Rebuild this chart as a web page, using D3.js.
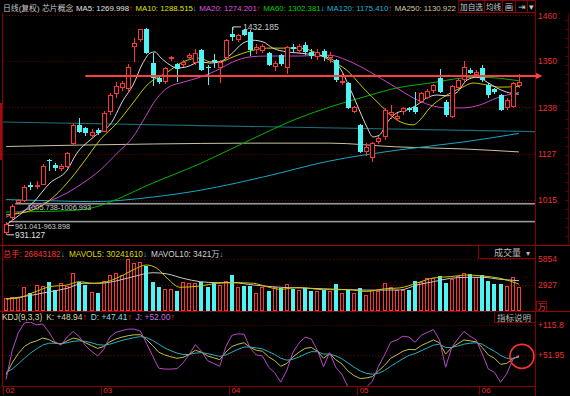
<!DOCTYPE html>
<html><head><meta charset="utf-8">
<script src="https://cdn.jsdelivr.net/npm/d3@7"></script>
<style>
html,body{margin:0;padding:0;background:#000;}
svg{display:block;}
text{font-family:"Liberation Sans","Noto Sans CJK SC",sans-serif;}
</style></head><body>
<svg id="c" width="570" height="396"></svg>
<script>
// ---------------- DATA ----------------
const opens  = [935,972,1008,1012,1052,1046,1052,1112,1100,1090,1095,1150,1196,1188,1170,1184,1180,1226,1270,1285,1282,1384,1400,1426,1345,1308,1300,1354,1342,1340,1358,1345,1377,1336,1352,1333,1357,1414,1400,1424,1420,1377,1375,1370,1335,1364,1334,1384,1375,1388,1372,1360,1375,1358,1352,1297,1297,1228,1196,1130,1116,1155,1167,1220,1210,1227,1237,1239,1250,1262,1277,1309,1250,1215,1285,1304,1328,1316,1333,1292,1283,1268,1237,1239,1290];
const highs  = [961.041,1005.738,1018,1050,1058,1060,1102,1115,1105,1102,1131,1200,1213,1192,1185,1188,1230,1272,1300,1302,1342,1405,1428,1430,1370,1315,1335,1362,1345,1352,1370,1378,1380,1340,1368,1352,1402,1432.185,1415,1426,1425,1390,1392,1372,1350,1366,1386,1392,1392,1395,1378,1380,1380,1372,1356,1321,1300,1242,1198,1152,1155,1170,1236,1245,1225,1240,1240,1275,1275,1282,1295,1330,1255,1292,1310,1350,1332,1328,1340,1296,1286,1270,1262,1300,1318];
const lows   = [931.127,963.898,1006.993,1010,1040,1042,1050,1085,1086,1086,1092,1146,1176,1170,1165,1172,1178,1220,1262,1278,1275,1348,1396,1368,1290,1295,1295,1350,1300,1335,1352,1340,1325,1292,1333,1298,1352,1398,1395,1410,1363,1368,1370,1338,1325,1338,1318,1370,1370,1365,1355,1352,1350,1345,1300,1293,1235,1225,1128,1120,1107,1150,1160,1210,1205,1220,1228,1222,1248,1258,1272,1272,1215,1212,1280,1300,1318,1312,1300,1262,1270,1230,1232,1236,1286];
const closes = [958,1000,1014,1046,1046,1052,1098,1108,1092,1098,1128,1196,1180,1176,1178,1176,1224,1268,1290,1298,1336,1393,1426,1370,1310,1300,1333,1360,1330,1348,1365,1370,1328,1332,1348,1348,1400,1408,1412,1412,1376,1384,1385,1340,1345,1342,1384,1380,1385,1372,1362,1372,1360,1365,1304,1301,1237,1238,1131,1142,1152,1164,1232,1227,1218,1237,1233,1227,1273,1278,1292,1275,1220,1290,1304,1335,1322,1323,1304,1268,1275,1232,1256,1297,1300];
// volume in 万手
const volumes = [1430,1610,1610,2740,2000,2930,2815,3300,2365,3120,2815,4245,3300,2930,2175,2000,3410,4050,4310,4050,5820,5370,5550,5070,3300,2740,2445,2445,2290,3300,3120,3190,3300,2665,3120,2930,3410,4050,2740,2815,2815,2060,2665,2290,2665,2600,3000,2500,2400,2600,2200,2300,2400,2200,3000,2000,2400,2000,2600,1800,2400,2200,3200,2700,2400,2365,2365,3410,3300,3680,3680,3940,3190,3570,3940,4245,4130,3860,4050,3410,3040,3000,2815,3790,2684];
// moving averages: [candle index, value]
const ma5  = [[0,955],[4.4,1008],[7.2,1056],[10,1087],[11.6,1128],[13.8,1160],[15.4,1179],[17,1196],[19.2,1256],[20.8,1292],[22.4,1345],[23.6,1369],[24.4,1372],[25.2,1360],[26.9,1340],[28,1333],[29.6,1336],[31.8,1348],[33.4,1345],[35,1348],[36.7,1364],[38.8,1393],[40.4,1400],[42.1,1396],[43.7,1381],[46,1372],[48.1,1369],[53,1357],[54.7,1333],[56.3,1285],[58,1227],[59.1,1191],[60.1,1167],[61.2,1172],[62.4,1201],[64,1225],[65.7,1232],[67.3,1244],[68.9,1261],[70.6,1268],[72.2,1266],[73.9,1275],[75.5,1304],[77.1,1311],[78.8,1299],[80.4,1285],[82,1275],[84,1270]];
const ma10 = [[0,979],[4.4,991],[7.2,1015],[10,1056],[12.6,1104],[15.4,1160],[18.2,1201],[20.8,1249],[23.1,1292],[26.4,1323],[29,1348],[31.8,1357],[33.4,1348],[35,1348],[37.2,1360],[39.5,1372],[42.7,1381],[48.1,1381],[53,1352],[55.8,1328],[58.5,1285],[61.3,1244],[64,1208],[66.7,1196],[67.8,1208],[69.4,1237],[72.2,1268],[74.8,1287],[76.5,1297],[78.8,1292],[80.9,1287],[84,1288.5]];
const ma20 = [[0,974],[4.4,998],[10,1032],[12.6,1056],[15.4,1087],[18.2,1128],[20.8,1167],[22.4,1205],[24.7,1260],[26.4,1285],[29,1299],[31.8,1311],[34.6,1328],[37.2,1348],[40,1360],[42.7,1362],[48.1,1362],[53,1364],[55.8,1352],[58.5,1333],[61.3,1309],[64,1285],[66.7,1261],[69.4,1244],[72.2,1237],[74.8,1237],[77.6,1244],[80.4,1261],[84,1274.2]];
const ma60 = [[0,986],[8,988],[13,993],[19,1022],[22.5,1046],[32,1104],[40,1160],[48,1213],[53,1239],[58.5,1263],[64,1285],[69.5,1297],[74.8,1309],[77.6,1311],[84,1302.4]];
const ma120 = [[0,1016],[8,1013],[14,1011],[24,1022],[32,1039],[42,1070],[53,1109],[64,1135],[75,1155],[84,1175.4]];
const ma250 = [[0,1144],[24,1150],[40,1152],[53,1152],[64,1143],[75,1138],[84,1130.9]];
const trendLine = [[-0.5,1203],[86.7,1180]];
const resistLine = [[13,1314],[87.6,1314]];
const mavol5  = [[0,1350],[2,1460],[4.4,2060],[7.2,2740],[10,2930],[12,3300],[14.2,3120],[16.5,3300],[19.2,4050],[20.8,4620],[23,5180],[24.7,4810],[26.4,3680],[28.5,2670],[31.8,2815],[34.6,3120],[37.2,3190],[40.5,3120],[42.7,2740],[44.9,2440],[48,2650],[52,2400],[56,2400],[59,2200],[62,2500],[64.5,2600],[67.3,3150],[70,3720],[72.8,3870],[75.5,4050],[78.1,3940],[80.9,3680],[84,3024]];
const mavol10 = [[0,1350],[4.4,1800],[7.2,2180],[10,2550],[12.6,3120],[15.4,3120],[18.2,3410],[20.8,3860],[24.1,4310],[26.4,4170],[29,3680],[31.8,3300],[34.6,3190],[37.2,3190],[40.5,2930],[44.9,2670],[48,2600],[52,2500],[56,2400],[60,2350],[64.5,2365],[67.3,2930],[70,3300],[72.8,3680],[75.5,3790],[78.1,3790],[80.9,3570],[84,3421]];
const kValues = [10,35,55,70,78,82,88,85,78,75,82,88,85,78,72,66,70,80,86,90,93,95,95,85,72,58,52,48,45,47,53,62,58,50,46,42,58,70,75,78,68,62,60,48,40,28,34,48,58,66,68,60,45,55,42,33,18,8,2,3,6,18,30,45,52,60,64,63,72,78,84,78,54,68,76,84,82,80,68,52,45,32,34,44,48.94];
const dValues = [15,22,33,45,56,65,73,77,77,76,78,81,82,81,78,74,73,75,79,83,86,89,91,89,83,75,67,61,56,53,53,56,57,55,52,49,52,58,64,69,69,67,65,59,53,45,41,43,48,54,59,59,54,54,50,44,35,26,18,13,11,13,19,28,36,44,51,55,61,67,73,75,68,68,71,75,77,78,75,67,60,51,45,45,47.41];
const jValues = [0,61,99,120,122,116,118,101,80,73,90,102,91,72,60,50,64,90,100,104,107,107,103,77,50,24,22,22,23,35,53,74,60,40,34,28,70,94,97,96,66,52,50,26,14,-6,20,58,78,90,86,62,27,57,26,11,-16,-28,-30,-17,-4,28,52,79,84,92,90,79,94,100,106,84,26,68,86,102,92,84,54,22,15,-6,12,42,52.00];
const monthLabels = ["02","03","04","05","06"];
const monthStart = [0,16,37,58,78];
const priceTicks = [1460,1350,1238,1127,1015];
const volTicks = [5854,2927];
const kdjTicks = [115.8,51.95];
const gaps = [[0,961.041,963.898,"961.041-963.898"],[1,1005.738,1006.993,"1005.738-1006.993"]];
const highMark = [37,1432.185];
const lowMark = [0,931.127];

// ---------------- SETUP ----------------
const RED="#ff3434", CYAN="#4ef4f4", BORDER="#8a0000", GRID="#6a0000", AXT="#e83030";
const UPC="#ff2020", DNC="#00d8ff";
const KBOT=386;
const svg=d3.select("#c");
svg.append("rect").attr("width",570).attr("height",396).attr("fill","#000");
const x=d3.scaleLinear().domain([0,84]).range([6.05,518.9]);
const xStart=d3.scaleLinear().domain([0,84]).range([3,515.9]);
const yP=d3.scaleLinear().domain([1015,1350]).range([200,61]);
const yV=d3.scaleLinear().domain([0,5854]).range([311,259]);
const yK=d3.scaleLinear().domain([51.95,115.8]).range([355,325]);
const defs=svg.append("defs");
function clip(id,x0,y0,w,h){defs.append("clipPath").attr("id",id).append("rect").attr("x",x0).attr("y",y0).attr("width",w).attr("height",h);}
clip("cm",3,13,532,232); clip("cv",3,246,532,65); clip("ck",3,322,532,KBOT-322);
defs.append("marker").attr("id","arr").attr("viewBox","0 0 10 10").attr("refX",8).attr("refY",5)
  .attr("markerWidth",3.2).attr("markerHeight",3.2).attr("orient","auto")
  .append("path").attr("d","M0,0L10,5L0,10z").attr("fill","#ff4040");

// single text fitted to a maximum width
function seg(g,parts,x0,y0,size,maxW,anchor){
  const t=g.append("text").attr("x",x0).attr("y",y0).attr("font-size",size);
  if(anchor) t.attr("text-anchor",anchor);
  parts.forEach(p=>t.append("tspan").attr("fill",p[1]).text(p[0]));
  const w=t.node().getComputedTextLength();
  if(maxW && w>maxW) t.attr("font-size",(size*maxW/w).toFixed(2));
  return t;
}
// a row of texts with one common font size, laid out left to right without overlap
function row(g,items,y0,size,limit,gap){
  gap=gap||3;
  const ts=items.map(it=>{const t=g.append("text").attr("y",y0).attr("font-size",size);
    it.parts.forEach(p=>t.append("tspan").attr("fill",p[1]).text(p[0]));
    return {t,w:t.node().getComputedTextLength(),x:it.x};});
  const place=f=>{let end=-1e9;const xs=[];ts.forEach(o=>{const xx=Math.max(o.x,end+gap);xs.push(xx);end=xx+o.w*f;});return {xs,end};};
  let f=1, r=place(f);
  while(limit && r.end>limit && f>0.5){f-=0.01;r=place(f);}
  ts.forEach((o,i)=>o.t.attr("x",r.xs[i].toFixed(1)).attr("font-size",(size*f).toFixed(2)));
}

// ---------------- FRAME ----------------
const frame=svg.append("g").attr("shape-rendering","crispEdges");
const hline=(y0,x1,x2,c)=>frame.append("line").attr("x1",x1).attr("x2",x2).attr("y1",y0).attr("y2",y0).attr("stroke",c||BORDER);
const vline=(x0,y1,y2,c)=>frame.append("line").attr("x1",x0).attr("x2",x0).attr("y1",y1).attr("y2",y2).attr("stroke",c||BORDER);
vline(2.5,13,KBOT); vline(535.5,13,396); vline(568.5,13,245,"#5a0000");
hline(245.5,0,570,"#a00000"); hline(311.5,0,570,"#a00000"); hline(KBOT+0.5,2,536);
frame.append("rect").attr("x",0).attr("y",103).attr("width",2).attr("height",57).attr("fill","#9a1010");
for(let yy=20;yy<245;yy+=9){ hline(yy+0.5,565,569,"#5a0000"); }

const grid=svg.append("g").attr("stroke",GRID).attr("stroke-dasharray","1,2").attr("shape-rendering","crispEdges");
priceTicks.forEach(t=>grid.append("line").attr("x1",3).attr("x2",535).attr("y1",Math.round(yP(t))+0.5).attr("y2",Math.round(yP(t))+0.5));
volTicks.forEach(t=>grid.append("line").attr("x1",3).attr("x2",535).attr("y1",Math.round(yV(t))+0.5).attr("y2",Math.round(yV(t))+0.5));
kdjTicks.forEach(t=>grid.append("line").attr("x1",3).attr("x2",535).attr("y1",Math.round(yK(t))+0.5).attr("y2",Math.round(yK(t))+0.5));

// ---------------- AXES ----------------
function styleAxis(g){g.select(".domain").remove();g.selectAll("line").remove();
  g.selectAll("text").attr("fill",AXT).attr("font-size",8.5).attr("font-family","Liberation Sans");}
svg.append("g").attr("transform","translate(535,0)")
  .call(d3.axisRight(yP).tickValues(priceTicks).tickSize(0).tickPadding(3).tickFormat(d3.format("d"))).call(styleAxis);
svg.append("g").attr("transform","translate(535,0)")
  .call(d3.axisRight(yV).tickValues(volTicks).tickSize(0).tickPadding(3).tickFormat(d3.format("d"))).call(styleAxis);
svg.append("g").attr("transform","translate(535,0)")
  .call(d3.axisRight(yK).tickValues(kdjTicks).tickSize(0).tickPadding(3).tickFormat(d=>"+"+d)).call(styleAxis);
const xa=svg.append("g").attr("transform","translate(0,"+KBOT+")")
  .call(d3.axisBottom(xStart).tickValues(monthStart).tickSize(9).tickFormat((d,i)=>monthLabels[i]));
xa.select(".domain").remove();
xa.selectAll("line").attr("stroke",BORDER).attr("shape-rendering","crispEdges");
xa.selectAll("text").attr("fill",AXT).attr("font-size",8).attr("text-anchor","start").attr("x",2).attr("y",1).attr("font-family","Liberation Sans");
frame.append("rect").attr("x",536.5).attr("y",301.5).attr("width",10).attr("height",10).attr("fill","none").attr("stroke",BORDER);
seg(svg,[["万",AXT]],537.5,310,8.5);

// ---------------- MAIN PANEL ----------------
const main=svg.append("g").attr("clip-path","url(#cm)");
gaps.forEach(gp=>{
  const y1=yP(gp[2]), y2=yP(gp[1]);
  main.append("rect").attr("x",x(gp[0])+3).attr("y",y1-0.4).attr("width",535-x(gp[0])-3).attr("height",Math.max(1.6,y2-y1)).attr("fill","#9a9a9a");
});
const lineP=d3.line().x(d=>x(d[0])).y(d=>yP(d[1])).curve(d3.curveMonotoneX);
main.append("path").datum(trendLine).attr("d",d3.line().x(d=>x(d[0])).y(d=>yP(d[1]))).attr("stroke","#1d6b73").attr("fill","none").attr("stroke-width",1.2);
[[ma250,"#c8c4a0"],[ma120,"#14a8c4"],[ma60,"#00b400"],[ma20,"#c444c8"],[ma10,"#c8c800"],[ma5,"#d8d8d8"]].forEach(([d,c])=>{
  main.append("path").datum(d).attr("d",lineP).attr("fill","none").attr("stroke",c).attr("stroke-width",1);
});
const cg=main.append("g").attr("shape-rendering","crispEdges");
closes.forEach((c,i)=>{
  const o=opens[i], up=c>=o, cx=Math.round(x(i)), col=up?RED:CYAN;
  cg.append("line").attr("x1",cx+0.5).attr("x2",cx+0.5).attr("y1",yP(highs[i])).attr("y2",yP(lows[i])).attr("stroke",col);
  const yt=Math.round(yP(Math.max(o,c))), yb=Math.round(yP(Math.min(o,c)));
  const h=Math.max(1,yb-yt);
  if(up) cg.append("rect").attr("x",cx-1.5).attr("y",yt+0.5).attr("width",4).attr("height",Math.max(0.5,h-1)).attr("fill","#000").attr("stroke",col);
  else cg.append("rect").attr("x",cx-2).attr("y",yt).attr("width",5).attr("height",h).attr("fill",col);
});
svg.append("path").datum(resistLine).attr("d",d3.line().x(d=>x(d[0])).y(d=>yP(d[1])))
  .attr("stroke","#ff4040").attr("stroke-width",2).attr("fill","none").attr("marker-end","url(#arr)");
const ann=svg.append("g");
gaps.forEach((gp,k)=>{
  const yy=yP(gp[1]);
  if(k===0){ ann.append("line").attr("x1",x(gp[0])+2).attr("x2",x(gp[0])+8).attr("y1",yy+3).attr("y2",yy+3).attr("stroke","#d0d0d0");
    seg(ann,[[gp[3],"#c8c8c8"]],x(gp[0])+9,yy+6.5,8.5,55); }
  else seg(ann,[[gp[3],"#c8c8c8"]],x(gp[0])+15,yy+6,8.5,64);
});
ann.append("line").attr("x1",x(lowMark[0])+1).attr("x2",x(lowMark[0])+8).attr("y1",yP(lowMark[1])).attr("y2",yP(lowMark[1])).attr("stroke","#e0e0e0");
seg(ann,[[d3.format(".3f")(lowMark[1]),"#e0e0e0"]],x(lowMark[0])+9,yP(lowMark[1])+3.5,9,30);
ann.append("line").attr("x1",x(highMark[0])+1).attr("x2",x(highMark[0])+9).attr("y1",yP(highMark[1])).attr("y2",yP(highMark[1])).attr("stroke","#d0d0d0");
ann.append("line").attr("x1",x(highMark[0])+1).attr("x2",x(highMark[0])+1).attr("y1",yP(highMark[1])).attr("y2",yP(highMark[1])+3).attr("stroke","#d0d0d0");
seg(ann,[[d3.format(".3f")(highMark[1]),"#c8c8c8"]],x(highMark[0])+11,yP(highMark[1])+3.5,9,36);

// ---------------- VOLUME PANEL ----------------
const vol=svg.append("g").attr("clip-path","url(#cv)");
const vg=vol.append("g").attr("shape-rendering","crispEdges");
volumes.forEach((v,i)=>{
  const up=closes[i]>=opens[i], cx=Math.round(x(i)), top=Math.round(yV(v));
  if(up) vg.append("rect").attr("x",cx-1.5).attr("y",top+0.5).attr("width",3).attr("height",311-top-1).attr("fill","none").attr("stroke",RED);
  else vg.append("rect").attr("x",cx-2).attr("y",top).attr("width",4).attr("height",311-top).attr("fill",CYAN);
});
const lineV=d3.line().x(d=>x(d[0])).y(d=>yV(d[1])).curve(d3.curveMonotoneX);
vol.append("path").datum(mavol10).attr("d",lineV).attr("fill","none").attr("stroke","#c8c8c8");
vol.append("path").datum(mavol5).attr("d",lineV).attr("fill","none").attr("stroke","#c8c800");

// ---------------- KDJ PANEL ----------------
const kd=svg.append("g").attr("clip-path","url(#ck)");
const lineK=d3.line().x((d,i)=>x(i)).y(d=>yK(d));
kd.append("path").datum(dValues).attr("d",lineK).attr("fill","none").attr("stroke","#24b0c0");
kd.append("path").datum(kValues).attr("d",lineK).attr("fill","none").attr("stroke","#c0c048");
kd.append("path").datum(jValues).attr("d",lineK).attr("fill","none").attr("stroke","#b848c8");
svg.append("circle").attr("cx",x(84)+3).attr("cy",yK(kValues[84])).attr("r",12).attr("fill","none").attr("stroke","#ff3030").attr("stroke-width",1.6);

// ---------------- HEADERS ----------------
const hd=svg.append("g");
row(hd,[
  {x:3,parts:[["日线(复权)","#c8c8c8"]]},
  {x:42,parts:[["芯片概念","#c8c8c8"]]},
  {x:74,parts:[["MA5: 1269.998","#e0e0e0"],["↑",UPC]]},
  {x:135,parts:[["MA10: 1288.515","#e0e000"],["↓",DNC]]},
  {x:196,parts:[["MA20: 1274.201","#e050e0"],["↑",UPC]]},
  {x:263,parts:[["MA60: 1302.381","#00d000"],["↓",DNC]]},
  {x:319,parts:[["MA120: 1175.410","#10b8d8"],["↑",UPC]]},
  {x:393,parts:[["MA250: 1130.922","#d8c8a0"]]}
],10.5,9,456,2.5);
const btns=[["加自选",458,26],["均线",484,18],["画",502,13],["⇥",515,12],["▾",527,8]];
btns.forEach(b=>{hd.append("rect").attr("x",b[1]+0.5).attr("y",0.5).attr("width",b[2]).attr("height",12).attr("fill","#000").attr("stroke",BORDER).attr("shape-rendering","crispEdges");
  seg(hd,[[b[0],"#c8c8c8"]],b[1]+b[2]/2+0.5,10,8.5,b[2]-3,"middle");});
row(hd,[
  {x:3,parts:[["总手: 26843182","#ff3030"],["↓",DNC]]},
  {x:67,parts:[["MAVOL5: 30241610","#d8d800"],["↓",DNC]]},
  {x:144,parts:[["MAVOL10: 3421万","#d0d0d0"],["↓",DNC]]}
],256.5,8.5,225,4);
hd.append("rect").attr("x",478.5).attr("y",245.5).attr("width",57).attr("height",13).attr("fill","#000").attr("stroke",BORDER).attr("shape-rendering","crispEdges");
seg(hd,[["成交量","#b8b8b8"]],494,256,9,28);
seg(hd,[["▾","#b8b8b8"]],526,256,8,8);
row(hd,[
  {x:2,parts:[["KDJ(9,3,3)","#d8d8a8"]]},
  {x:42,parts:[["K: +48.94","#d8d8a8"],["↑",UPC]]},
  {x:83,parts:[["D: +47.41","#90d8e0"],["↑",UPC]]},
  {x:128,parts:[["J: +52.00","#c070e0"],["↑",UPC]]}
],320,8.5,175,4);
hd.append("rect").attr("x",494.5).attr("y",311.5).attr("width",41).attr("height",11).attr("fill","#000").attr("stroke",BORDER).attr("shape-rendering","crispEdges");
seg(hd,[["指标说明","#b8b8b8"]],497,320.5,8.5,36);
</script>
</body></html>
